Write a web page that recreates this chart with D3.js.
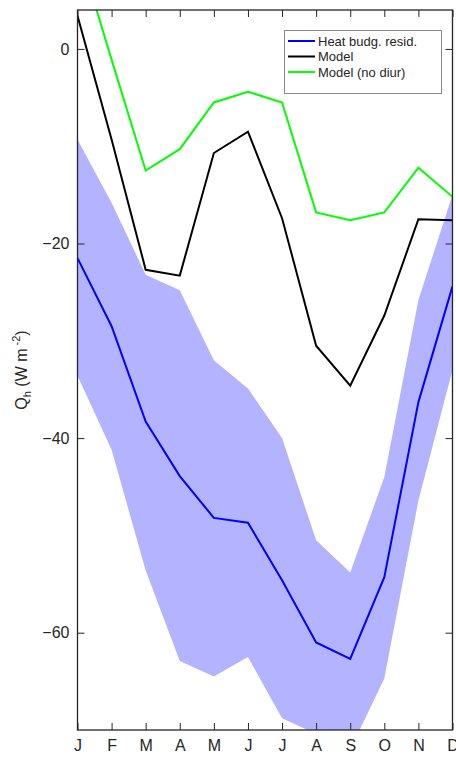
<!DOCTYPE html>
<html>
<head>
<meta charset="utf-8">
<script src="https://cdn.jsdelivr.net/npm/d3@7"></script>
<style>
  body { margin: 0; background: #fff; }
  text { font-family: "Liberation Sans", Arial, sans-serif; fill: #262626; }
</style>
</head>
<body>
<div class="root"></div>
<script>
var months = ['J', 'F', 'M', 'A', 'M', 'J', 'J', 'A', 'S', 'O', 'N', 'D'];
var yTicks = [0, -20, -40, -60];

// heat budget residual and its uncertainty band
var resid = [-21.5, -28.5, -38.3, -43.9, -48.2, -48.7, -54.6, -61.0, -62.7, -54.3, -36.3, -24.4];
var residHi = [-9.3, -15.8, -23.2, -24.8, -32.0, -34.9, -40.0, -50.5, -53.8, -44.0, -25.8, -15.0];
var residLo = [-33.6, -41.2, -53.6, -62.9, -64.5, -62.5, -68.8, -70.4, -72.0, -64.7, -46.4, -33.0];

var model = [3.4, -9.3, -22.7, -23.3, -10.7, -8.5, -17.4, -30.5, -34.6, -27.4, -17.5, -17.6];
var modelNoDiur = [10.5, -1.1, -12.5, -10.3, -5.5, -4.4, -5.5, -16.8, -17.6, -16.8, -12.2, -15.2];

var w = 456, h = 757;
var m = { left: 77.5, right: 452.5, top: 10, bottom: 730 };

var svg = d3.select('.root').append('svg')
  .attr('width', w)
  .attr('height', h);

var x = d3.scaleLinear().domain([1, 12]).range([m.left, m.right]);
var y = d3.scaleLinear().domain([-70, 4]).range([m.bottom, m.top]);

svg.append('clipPath').attr('id', 'clip')
  .append('rect')
    .attr('x', m.left).attr('y', m.top)
    .attr('width', m.right - m.left).attr('height', m.bottom - m.top);

var plot = svg.append('g').attr('clip-path', 'url(#clip)');

var band = d3.area()
  .x(function(d, i) { return x(i + 1); })
  .y0(function(d, i) { return y(residLo[i]); })
  .y1(function(d, i) { return y(residHi[i]); });

plot.append('path')
  .attr('d', band(resid))
  .attr('fill', '#b3b3ff');

var line = d3.line()
  .x(function(d, i) { return x(i + 1); })
  .y(function(d) { return y(d); });

plot.append('path').attr('d', line(resid))
  .attr('fill', 'none').attr('stroke', '#0000ff').attr('stroke-width', 2);
plot.append('path').attr('d', line(model))
  .attr('fill', 'none').attr('stroke', '#000').attr('stroke-width', 2);
plot.append('path').attr('d', line(modelNoDiur))
  .attr('fill', 'none').attr('stroke', '#00ff00').attr('stroke-width', 2);

// axes, ticks pointing inward on all four sides
var monthIdx = d3.range(1, 13);
svg.append('g')
  .attr('transform', 'translate(0,' + m.bottom + ')')
  .call(d3.axisBottom(x).tickValues(monthIdx)
    .tickFormat(function(d) { return months[d - 1]; })
    .tickSizeInner(-7).tickSizeOuter(0).tickPadding(10));
svg.append('g')
  .attr('transform', 'translate(0,' + m.top + ')')
  .call(d3.axisTop(x).tickValues(monthIdx).tickFormat('')
    .tickSizeInner(-7).tickSizeOuter(0));
svg.append('g')
  .attr('transform', 'translate(' + m.left + ',0)')
  .call(d3.axisLeft(y).tickValues(yTicks)
    .tickSizeInner(-7).tickSizeOuter(0).tickPadding(8));
svg.append('g')
  .attr('transform', 'translate(' + m.right + ',0)')
  .call(d3.axisRight(y).tickValues(yTicks).tickFormat('')
    .tickSizeInner(-7).tickSizeOuter(0));

svg.selectAll('.domain').remove();
svg.selectAll('.tick line').attr('stroke', '#262626');
svg.selectAll('.tick text')
  .style('font-family', '"Liberation Sans", Arial, sans-serif')
  .style('font-size', '16px')
  .attr('fill', '#262626');

svg.append('rect')
  .attr('x', m.left).attr('y', m.top)
  .attr('width', m.right - m.left).attr('height', m.bottom - m.top)
  .attr('fill', 'none').attr('stroke', '#262626').attr('stroke-width', 1.3);

// y label
var yl = svg.append('text')
  .attr('transform', 'translate(27,370) rotate(-90)')
  .attr('text-anchor', 'middle')
  .style('font-size', '16px');
yl.append('tspan').text('Q');
yl.append('tspan').text('h').attr('dy', 4).style('font-size', '11px');
yl.append('tspan').text(' (W m').attr('dy', -4);
yl.append('tspan').text(' -2').attr('dy', -7).style('font-size', '11px');
yl.append('tspan').text(')').attr('dy', 7);

// legend
var legend = [
  { name: 'Heat budg. resid.', color: '#0000ff' },
  { name: 'Model', color: '#000' },
  { name: 'Model (no diur)', color: '#00ff00' }
];
var lg = svg.append('g');
lg.append('rect')
  .attr('x', 284.5).attr('y', 30.5).attr('width', 157).attr('height', 63)
  .attr('fill', '#fff').attr('stroke', '#888').attr('stroke-width', 1);
legend.forEach(function(d, i) {
  var ly = 41 + i * 15.5;
  lg.append('line')
    .attr('x1', 288).attr('x2', 315).attr('y1', ly).attr('y2', ly)
    .attr('stroke', d.color).attr('stroke-width', 2);
  lg.append('text')
    .attr('x', 318).attr('y', ly + 4.5)
    .style('font-size', '13px')
    .attr('fill', '#000')
    .text(d.name);
});
</script>
</body>
</html>
